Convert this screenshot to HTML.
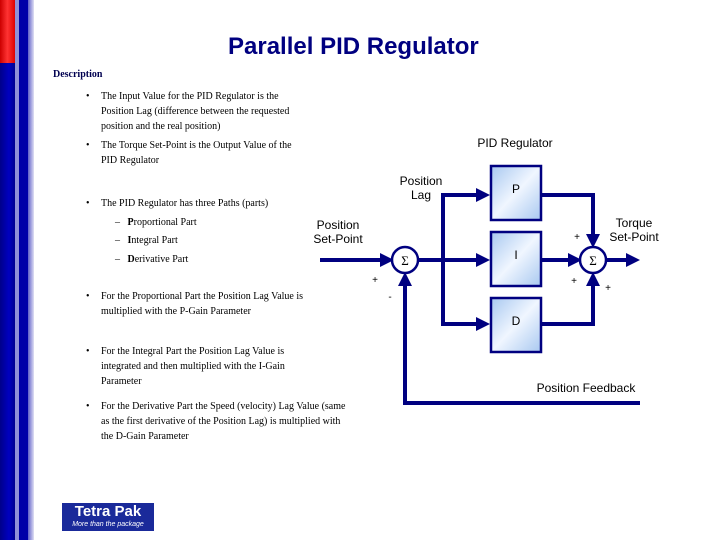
<!DOCTYPE html>
<html><head><style>
body{margin:0;width:720px;height:540px;background:#fff;position:relative;overflow:hidden;font-family:"Liberation Serif",serif}
.t{position:absolute;color:#000;font-size:10px;line-height:15px;white-space:nowrap}
.s{font-family:"Liberation Sans",sans-serif;position:absolute;font-size:12px;color:#000;text-align:center;line-height:14px}
</style></head><body>
<div style="position:absolute;left:0;top:0;width:15px;height:63px;background:linear-gradient(90deg,#c00,#f33 50%,#d00)"></div>
<div style="position:absolute;left:0;top:63px;width:15px;height:477px;background:linear-gradient(90deg,#00008a,#0000c0 60%,#000090)"></div>
<div style="position:absolute;left:15px;top:0;width:4px;height:540px;background:#9090d8"></div>
<div style="position:absolute;left:19px;top:0;width:9px;height:540px;background:#0000a8"></div>
<div style="position:absolute;left:28px;top:0;width:6px;height:540px;background:linear-gradient(90deg,#6060c8,#e0e0f4)"></div>
<div style="position:absolute;left:228px;top:33px;font:bold 24px 'Liberation Sans',sans-serif;color:#000080">Parallel PID Regulator</div>
<div class="t" style="left:53px;top:67px;font-weight:bold;color:#000050">Description</div>
<div class="t" style="left:86px;top:89px">•</div>
<div class="t" style="left:101px;top:89px">The Input Value for the PID Regulator is the<br>Position Lag (difference between the requested<br>position and the real position)</div>
<div class="t" style="left:86px;top:138px">•</div>
<div class="t" style="left:101px;top:138px">The Torque Set-Point is the Output Value of the<br>PID Regulator</div>
<div class="t" style="left:86px;top:196px">•</div>
<div class="t" style="left:101px;top:196px">The PID Regulator has three Paths (parts)</div>
<div class="t" style="left:115px;top:215px">–&nbsp;&nbsp; <b>P</b>roportional Part</div>
<div class="t" style="left:115px;top:233px">–&nbsp;&nbsp; <b>I</b>ntegral Part</div>
<div class="t" style="left:115px;top:252px">–&nbsp;&nbsp; <b>D</b>erivative Part</div>
<div class="t" style="left:86px;top:289px">•</div>
<div class="t" style="left:101px;top:289px">For the Proportional Part the Position Lag Value is<br>multiplied with the P-Gain Parameter</div>
<div class="t" style="left:86px;top:344px">•</div>
<div class="t" style="left:101px;top:344px">For the Integral Part the Position Lag Value is<br>integrated and then multiplied with the I-Gain<br>Parameter</div>
<div class="t" style="left:86px;top:399px">•</div>
<div class="t" style="left:101px;top:399px">For the Derivative Part the Speed (velocity) Lag Value (same<br>as the first derivative of the Position Lag) is multiplied with<br>the D-Gain Parameter</div>
<div style="position:absolute;left:62px;top:503px;width:92px;height:28px;background:#1a2a9a;color:#fff;font:bold 15px 'Liberation Sans',sans-serif;line-height:17px;text-align:center">Tetra Pak<div style="font:italic 7px 'Liberation Sans',sans-serif;line-height:9px">More than the package</div></div>
<svg style="position:absolute;left:0;top:0" width="720" height="540">
<defs><linearGradient id="g" x1="0" y1="0" x2="1" y2="1"><stop offset="0" stop-color="#a8c8f0"/><stop offset=".5" stop-color="#f0f6ff"/><stop offset="1" stop-color="#a8c8f0"/></linearGradient>
<marker id="a" markerWidth="3.5" markerHeight="3.5" refX="2.5" refY="1.75" orient="auto" markerUnits="strokeWidth"><path d="M0,0L3.5,1.75L0,3.5z" fill="#000080"/></marker></defs>
<g stroke="#000080" stroke-width="4" fill="none">
<line x1="320" y1="260" x2="390" y2="260" marker-end="url(#a)"/>
<line x1="418" y1="260" x2="486" y2="260" marker-end="url(#a)"/>
<polyline points="486,195 443,195 443,324 486,324"/>
<line x1="443" y1="195" x2="486" y2="195" marker-end="url(#a)"/>
<line x1="443" y1="324" x2="486" y2="324" marker-end="url(#a)"/>
<polyline points="541,195 593,195 593,244" marker-end="url(#a)"/>
<polyline points="541,324 593,324 593,276" marker-end="url(#a)"/>
<line x1="541" y1="260" x2="578" y2="260" marker-end="url(#a)"/>
<line x1="607" y1="260" x2="636" y2="260" marker-end="url(#a)"/>
<polyline points="640,403 405,403 405,276" marker-end="url(#a)"/>
</g>
<g stroke="#000080" stroke-width="2.5" fill="#fff"><circle cx="405" cy="260" r="13"/><circle cx="593" cy="260" r="13"/></g>
<g stroke="#000080" stroke-width="2.5" fill="url(#g)"><rect x="491" y="166" width="50" height="54"/><rect x="491" y="232" width="50" height="54"/><rect x="491" y="298" width="50" height="54"/></g>
<g font-family="Liberation Serif,serif" font-size="13" text-anchor="middle"><text x="405" y="265">Σ</text><text x="593" y="265">Σ</text></g>
<g font-family="Liberation Sans,sans-serif" font-size="12" text-anchor="middle"><text x="516" y="193">P</text><text x="516" y="259">I</text><text x="516" y="325">D</text>
<text x="515" y="147">PID Regulator</text><text x="586" y="392">Position Feedback</text>
<text x="375" y="283" font-size="10">+</text><text x="390" y="300" font-size="10">-</text><text x="577" y="240" font-size="10">+</text><text x="574" y="284" font-size="10">+</text><text x="608" y="291" font-size="10">+</text></g>
</svg>
<div class="s" style="left:386px;top:174px;width:70px">Position<br>Lag</div>
<div class="s" style="left:303px;top:218px;width:70px">Position<br>Set-Point</div>
<div class="s" style="left:599px;top:216px;width:70px">Torque<br>Set-Point</div>
</body></html>
